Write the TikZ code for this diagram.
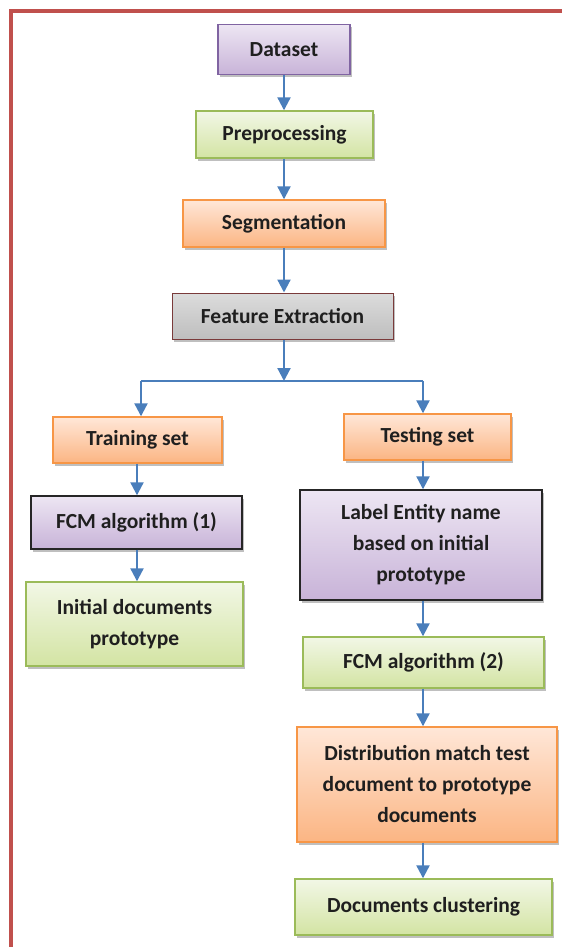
\documentclass[tikz,border=0pt]{standalone}
\usepackage{fontspec}
\setmainfont{Carlito}
\usetikzlibrary{arrows.meta,shadows}
\definecolor{pbord}{HTML}{8064A2}
\definecolor{ptop}{HTML}{EDE6F3}
\definecolor{pbot}{HTML}{C8B3D8}
\definecolor{gbord}{HTML}{9BBB59}
\definecolor{gtop}{HTML}{F2F7E6}
\definecolor{gbot}{HTML}{D3E4A3}
\definecolor{obord}{HTML}{F79646}
\definecolor{otop}{HTML}{FFE7D8}
\definecolor{obot}{HTML}{FBB583}
\definecolor{xtop}{HTML}{DCDCDC}
\definecolor{xbot}{HTML}{BEBEBE}
\definecolor{xbord}{HTML}{7A3A3A}
\definecolor{arrblue}{HTML}{4A7EBB}
\definecolor{frame}{HTML}{C0504D}
\tikzset{
  box/.style={rectangle, line width=1.4pt, align=center, inner sep=0pt,
    font=\fontsize{21.5}{31}\selectfont\bfseries, text=black!88,
    drop shadow={shadow xshift=2pt, shadow yshift=-3pt, opacity=0.25, fill=black}},
  purplebox/.style={box, draw=pbord, top color=ptop, bottom color=pbot},
  purpleblk/.style={box, draw=black!85, top color=ptop, bottom color=pbot},
  greenbox/.style={box, draw=gbord, top color=gtop, bottom color=gbot},
  orangebox/.style={box, draw=obord, top color=otop, bottom color=obot},
  graybox/.style={box, draw=xbord, line width=1pt, top color=xtop, bottom color=xbot},
  arr/.style={draw=arrblue, line width=2.2pt, -{Triangle[width=13pt,length=13pt]}},
  plainline/.style={draw=arrblue, line width=2.2pt}
}
\begin{document}
\begin{tikzpicture}[x=1pt,y=-1pt]
\useasboundingbox (0,0) rectangle (562,947);
\draw[frame, line width=4pt] (11,947) -- (11,11) -- (562,11);

\node[purplebox, minimum width=132, minimum height=50] (data) at (284,49.5) {Dataset};
\node[greenbox, minimum width=177, minimum height=47] (pre) at (284.5,134.5) {Preprocessing};
\node[orangebox, minimum width=202, minimum height=47] (seg) at (284,223.5) {Segmentation};
\node[graybox, minimum width=221, minimum height=46] (fe) at (282.5,316) {Feature Extraction};
\node[orangebox, minimum width=169, minimum height=46] (train) at (137.5,440) {Training set};
\node[orangebox, minimum width=167, minimum height=46] (test) at (427.5,437) {Testing set};
\node[purpleblk, minimum width=211, minimum height=53] (fcma) at (136.5,522.5) {FCM algorithm (1)};
\node[greenbox, minimum width=217, minimum height=84] (init) at (134.5,624) {Initial documents\\prototype};
\node[purpleblk, minimum width=242, minimum height=110] (label) at (421,545) {Label Entity name\\based on initial\\prototype};
\node[greenbox, minimum width=241, minimum height=51] (fcmb) at (423.5,662.5) {FCM algorithm (2)};
\node[orangebox, minimum width=260, minimum height=115] (dist) at (427,784.5) {Distribution match test\\document to prototype\\documents};
\node[greenbox, minimum width=257, minimum height=56] (clus) at (423.5,907) {Documents clustering};

\coordinate (j) at (284,381);
\coordinate (jl) at (141,381);
\coordinate (jr) at (423,381);
\coordinate (xa) at (284,0);
\coordinate (xl) at (137,0);
\coordinate (xr) at (423,0);

\draw[arr] (data.south -| xa) -- (pre.north -| xa);
\draw[arr] (pre.south -| xa) -- (seg.north -| xa);
\draw[arr] (seg.south -| xa) -- (fe.north -| xa);
\draw[arr] (fe.south -| xa) -- (j);
\draw[plainline] (jl) -- (jr);
\draw[arr] (jl) -- (train.north -| jl);
\draw[arr] (jr) -- (test.north -| jr);
\draw[arr] (train.south -| xl) -- (fcma.north -| xl);
\draw[arr] (fcma.south -| xl) -- (init.north -| xl);
\draw[arr] (test.south -| xr) -- (label.north -| xr);
\draw[arr] (label.south -| xr) -- (fcmb.north -| xr);
\draw[arr] (fcmb.south -| xr) -- (dist.north -| xr);
\draw[arr] (dist.south -| xr) -- (clus.north -| xr);
\end{tikzpicture}
\end{document}
